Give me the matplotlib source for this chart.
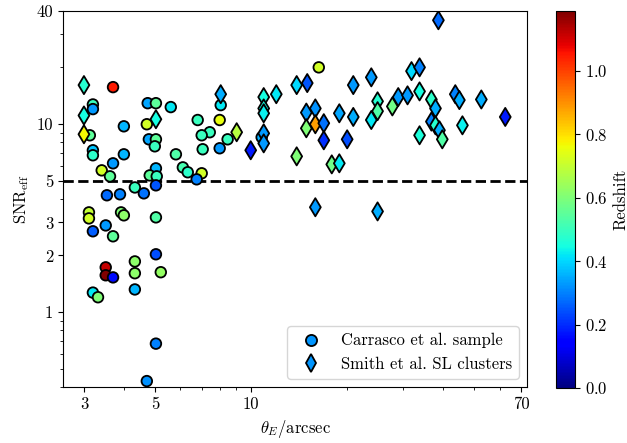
import numpy as np
import matplotlib
matplotlib.use("Agg")
import matplotlib.pyplot as plt
from matplotlib.lines import Line2D
from matplotlib.ticker import NullFormatter

plt.rcParams["font.family"] = "serif"
plt.rcParams["font.serif"] = ["cmr10", "DejaVu Serif"]
plt.rcParams["mathtext.fontset"] = "cm"
plt.rcParams["axes.formatter.use_mathtext"] = True
plt.rcParams["font.size"] = 12

# ── Data ────────────────────────────────────────────────────────────────────

# Carrasco et al. sample (circles)
carrasco_theta = [3.70, 3.20, 3.20, 4.00, 4.72, 4.75, 5.04, 5.61, 3.13, 3.20,
                  3.20, 4.00, 3.70, 3.41, 3.62, 4.79, 5.04, 5.00, 5.82, 6.12,
                  6.34, 5.04, 4.82, 5.07, 5.04, 4.33, 3.54, 3.89, 4.62, 3.11,
                  3.11, 3.92, 4.00, 5.04, 3.51, 3.20, 3.70, 4.33, 4.33, 4.33,
                  3.51, 3.51, 3.70, 5.04, 5.22, 3.20, 3.32, 5.04, 4.72, 8.04,
                  7.98, 6.81, 7.43, 7.01, 8.45, 7.06, 7.98, 10.8, 7.01, 6.76,
                  16.3]
carrasco_snr = [15.7, 12.7, 12.0, 9.72, 9.97, 12.9, 12.9, 12.3, 8.71, 7.25,
                6.82, 6.90, 6.18, 5.67, 5.27, 8.29, 8.29, 7.61, 6.90, 5.88,
                5.54, 5.81, 5.33, 5.27, 4.72, 4.60, 4.18, 4.23, 4.28, 3.39,
                3.15, 3.39, 3.27, 3.19, 2.89, 2.69, 2.53, 1.86, 1.61, 1.32,
                1.73, 1.57, 1.53, 2.03, 1.63, 1.27, 1.20, 0.68, 0.43, 12.6,
                10.5, 10.5, 9.04, 8.71, 8.29, 7.34, 7.43, 8.50, 5.47, 5.08,
                20.0]
carrasco_z = [1.05, 0.50, 0.33, 0.36, 0.72, 0.34, 0.55, 0.42, 0.55, 0.38,
              0.48, 0.36, 0.33, 0.72, 0.55, 0.34, 0.55, 0.50, 0.53, 0.52,
              0.48, 0.36, 0.55, 0.50, 0.25, 0.50, 0.27, 0.30, 0.28, 0.70,
              0.72, 0.60, 0.62, 0.53, 0.33, 0.26, 0.55, 0.62, 0.62, 0.36,
              1.12, 1.19, 0.16, 0.24, 0.63, 0.42, 0.60, 0.30, 0.32, 0.42,
              0.75, 0.50, 0.50, 0.50, 0.50, 0.50, 0.33, 0.35, 0.72, 0.30,
              0.72]

# Smith et al. SL clusters (diamonds)
smith_theta = [3.00, 3.00, 3.00, 5.04, 8.04, 9.02, 9.98, 10.96, 10.96, 10.96,
               10.96, 10.96, 12.0, 13.9, 15.0, 14.9, 15.9, 14.9, 15.9, 16.9,
               16.9, 13.9, 17.9, 18.9, 15.9, 18.9, 20.0, 20.9, 20.9, 23.8,
               24.9, 24.9, 23.8, 24.9, 27.7, 28.9, 30.9, 31.8, 33.7, 33.7,
               33.7, 36.7, 37.8, 36.7, 37.8, 38.9, 39.7, 38.6, 43.6, 44.9,
               45.9, 52.6, 62.5]
smith_snr = [16.1, 11.1, 8.82, 10.6, 14.4, 9.04, 7.25, 8.92, 7.89, 13.9,
             12.1, 11.4, 14.4, 16.1, 16.5, 11.5, 12.1, 9.49, 9.97, 10.1,
             8.19, 6.73, 6.10, 6.18, 3.61, 11.4, 8.29, 16.1, 10.9, 17.7,
             13.2, 11.7, 10.5, 3.43, 12.4, 13.9, 14.2, 19.1, 20.0, 14.9,
             8.71, 13.5, 12.1, 10.3, 9.84, 9.26, 8.29, 35.6, 14.4, 13.4,
             9.84, 13.5, 10.9]
smith_z = [0.47, 0.45, 0.77, 0.45, 0.35, 0.68, 0.18, 0.33, 0.33, 0.45,
           0.45, 0.43, 0.42, 0.40, 0.25, 0.33, 0.32, 0.60, 0.88, 0.28,
           0.20, 0.60, 0.58, 0.42, 0.33, 0.34, 0.24, 0.33, 0.35, 0.33,
           0.47, 0.53, 0.42, 0.35, 0.58, 0.33, 0.33, 0.40, 0.30, 0.45,
           0.46, 0.48, 0.35, 0.30, 0.47, 0.35, 0.53, 0.27, 0.30, 0.35,
           0.43, 0.35, 0.18]

SNR_CUT = 5
Z_MIN, Z_MAX = 0.0, 1.19

# ── Plot ────────────────────────────────────────────────────────────────────

fig = plt.figure(figsize=(6.27, 4.43), dpi=100)
ax = fig.add_axes([0.1005, 0.1264, 0.74, 0.8494])
cax = fig.add_axes([0.8868, 0.1242, 0.0303, 0.8516])

sc = ax.scatter(carrasco_theta, carrasco_snr, c=carrasco_z, cmap="jet",
                vmin=Z_MIN, vmax=Z_MAX, marker="o", s=58,
                edgecolors="black", linewidths=1.3, zorder=3)
ax.scatter(smith_theta, smith_snr, c=smith_z, cmap="jet",
           vmin=Z_MIN, vmax=Z_MAX, marker="d", s=85,
           edgecolors="black", linewidths=1.3, zorder=4)

ax.axhline(SNR_CUT, color="black", ls="--", lw=2, zorder=2)

ax.set_xscale("log")
ax.set_yscale("log")
ax.set_xlim(2.58, 73.1)
ax.set_ylim(0.4, 40)

ax.set_xticks([3, 5, 10, 70])
ax.set_xticklabels(["3", "5", "10", "70"])
ax.set_yticks([1, 2, 3, 5, 10, 40])
ax.set_yticklabels(["1", "2", "3", "5", "10", "40"])
ax.xaxis.set_minor_formatter(NullFormatter())
ax.yaxis.set_minor_formatter(NullFormatter())

ax.set_xlabel(r"$\theta_E/\mathrm{arcsec}$")
ax.set_ylabel(r"$\mathrm{SNR}_{\mathrm{eff}}$")

legend_color = plt.get_cmap("jet")(0.27)
handles = [
    Line2D([], [], ls="none", marker="o", ms=8, mfc=legend_color,
           mec="black", mew=1.3, label="Carrasco et al. sample"),
    Line2D([], [], ls="none", marker="d", ms=9, mfc=legend_color,
           mec="black", mew=1.3, label="Smith et al. SL clusters"),
]
ax.legend(handles=handles, loc="lower right")

cb = fig.colorbar(sc, cax=cax)
cb.set_ticks([0.0, 0.2, 0.4, 0.6, 0.8, 1.0])
cb.set_label("Redshift")

fig.savefig("out.png", dpi=100)
